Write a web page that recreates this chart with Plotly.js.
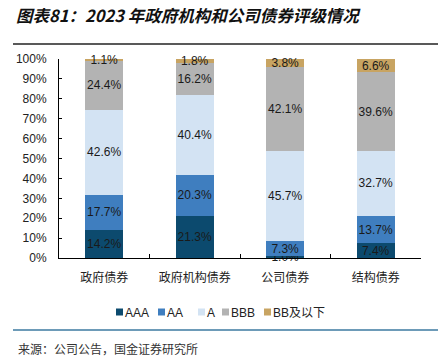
<!DOCTYPE html>
<html>
<head>
<meta charset="utf-8">
<script src="https://cdn.plot.ly/plotly-3.0.1.min.js"></script>
<style>html,body{margin:0;padding:0;background:#fff;}#chart{width:438px;height:360px;}</style>
</head>
<body>
<div id="chart"></div>
<script>
const categories = ["政府债券", "政府机构债券", "公司债券", "结构债券"];
const seriesNames = ["AAA", "AA", "A", "BBB", "BB及以下"];
const AAA = [14.2, 21.3, 1.0, 7.4];
const AA = [17.7, 20.3, 7.3, 13.7];
const A = [42.6, 40.4, 45.7, 32.7];
const BBB = [24.4, 16.2, 42.1, 39.6];
const BB = [1.1, 1.8, 3.8, 6.6];
const yTickVals = [0, 10, 20, 30, 40, 50, 60, 70, 80, 90, 100];
const yTickText = ["0%", "10%", "20%", "30%", "40%", "50%", "60%", "70%", "80%", "90%", "100%"];

const colors = ["#0c4a6e", "#3f7ebf", "#d3e3f3", "#b3b3b3", "#c8a462"];
const values = [AAA, AA, A, BBB, BB];
const font = "'Liberation Sans', Arial, 'Noto Sans CJK SC', sans-serif";

const traces = values.map((v, i) => {
  const tf = {family: font, size: 12, color: v.map(() => "#1a1a1a")};
  return {
    type: "bar",
    name: seriesNames[i],
    x: categories,
    y: v,
    marker: {color: colors[i], line: {width: 0}},
    texttemplate: "%{y:.1f}%",
    textposition: "inside",
    insidetextanchor: "middle",
    constraintext: "none",
    cliponaxis: false,
    textangle: 0,
    textfont: tf,
    insidetextfont: tf,
    showlegend: false,
    hoverinfo: "none"
  };
});

// custom compact legend (plot-area paper coordinates)
const px = (x) => (x - 59) / 362;
const py = (y) => (258 - y) / 199;
const legendLeft = [116, 158, 198, 222, 264];
const legendY = 312;
const shapes = [
  {type: "line", xref: "paper", yref: "paper",
   x0: px(13), x1: px(438), y0: py(44), y1: py(44),
   line: {color: "#222", width: 1.5}},
  {type: "line", xref: "paper", yref: "paper",
   x0: px(13), x1: px(438), y0: py(330), y1: py(330),
   line: {color: "#3d7aa0", width: 1.5}}
];
const annotations = [
  {text: "来源：公司公告，国金证券研究所", xref: "paper", yref: "paper",
   x: px(16), xanchor: "left", y: py(348), yanchor: "middle",
   showarrow: false,
   font: {family: "'Noto Sans CJK SC', sans-serif", size: 12, color: "#333"}}
];
seriesNames.forEach((name, i) => {
  const x0 = legendLeft[i];
  shapes.push({type: "rect", xref: "paper", yref: "paper",
    x0: px(x0), x1: px(x0 + 7), y0: py(legendY - 3.5), y1: py(legendY + 3.5),
    fillcolor: colors[i], line: {width: 0}});
  annotations.push({text: name, xref: "paper", yref: "paper",
    x: px(x0 + 8), xanchor: "left", y: py(legendY + 1), yanchor: "middle",
    showarrow: false, xshift: -1,
    font: {family: font, size: 12, color: "#222"}});
});

const layout = {
  width: 438, height: 360,
  margin: {l: 59, r: 17, t: 59, b: 102},
  barmode: "stack",
  bargap: 0.58,
  paper_bgcolor: "#fff",
  plot_bgcolor: "#fff",
  font: {family: font, size: 12, color: "#222"},
  title: {
    text: "<b><i>图表81：2023 年政府机构和公司债券评级情况</i></b>",
    font: {family: "'Noto Sans CJK SC', sans-serif", size: 16.5, color: "#111"},
    x: 16 / 438, xref: "container", xanchor: "left",
    y: 1 - 16 / 360, yref: "container", yanchor: "middle"
  },
  xaxis: {
    type: "category",
    showline: true, linecolor: "#000", linewidth: 1,
    ticks: "inside", tickson: "boundaries", ticklen: 4, tickcolor: "#000",
    ticklabelstandoff: 9,
    tickfont: {family: "'Noto Sans CJK SC', sans-serif", size: 12, color: "#222"},
    showgrid: false, zeroline: false
  },
  yaxis: {
    range: [0, 100],
    tickvals: yTickVals, ticktext: yTickText,
    showline: true, linecolor: "#000", linewidth: 1,
    ticks: "inside", ticklen: 3, tickcolor: "#000",
    ticklabelstandoff: 9,
    tickfont: {family: font, size: 12, color: "#222"},
    showgrid: false, zeroline: false
  },
  showlegend: false,
  shapes: shapes,
  annotations: annotations
};

Plotly.newPlot("chart", traces, layout, {displayModeBar: false, staticPlot: true});
</script>
</body>
</html>
